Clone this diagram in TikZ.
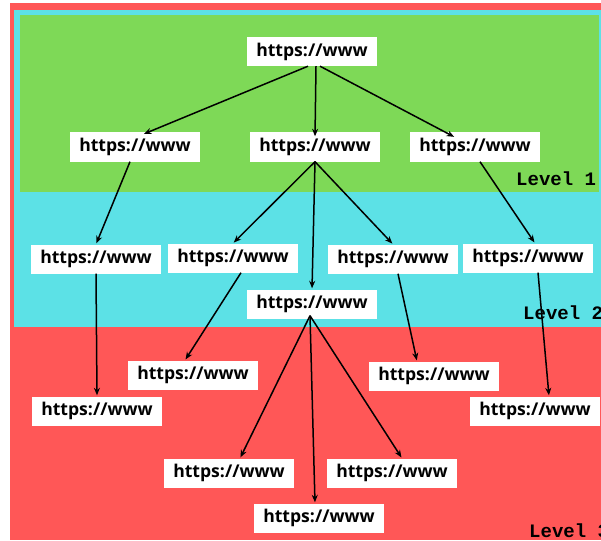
\documentclass[tikz,border=0pt]{standalone}
\usepackage{fontspec}
\setmainfont{Open Sans}
\newfontfamily\levelfont{Liberation Mono}
\usetikzlibrary{arrows.meta}
\definecolor{bgred}{HTML}{FF5757}
\definecolor{bgcyan}{HTML}{5CE1E6}
\definecolor{bggreen}{HTML}{7ED957}
\tikzstyle{urlbox} = [rectangle, fill=white, minimum width=130pt, minimum height=29pt, inner sep=0pt, text centered, font=\fontsize{17.6}{20}\selectfont\bfseries]
\tikzstyle{levellabel} = [anchor=west, inner sep=0pt, font=\levelfont\fontsize{19}{22}\selectfont\bfseries]
\tikzstyle{arrow} = [line width=1.5pt, -{Stealth[length=7.5pt,width=6pt]}, shorten >=1pt]

\begin{document}
\begin{tikzpicture}[x=1pt,y=-1pt]
    \useasboundingbox (0,0) rectangle (601,540);
    \clip (0,0) rectangle (601,540);
    % level bands
    \fill[white] (0,0) rectangle (601,540);
    \fill[bgred] (10,3) rectangle (610,540);
    \fill[bgcyan] (14,10) rectangle (610,327);
    \fill[bggreen] (20,15) rectangle (599,192);

    \node (lvl1) [levellabel] at (516,178.5) {Level 1};
    \node (lvl2) [levellabel] at (523,312.5) {Level 2};
    \node (lvl3) [levellabel] at (529,531) {Level 3};

    % pages
    \node (top) [urlbox] at (312,51.5) {https://www};
    \node (l1a) [urlbox] at (135,147) {https://www};
    \node (l1b) [urlbox] at (315,147) {https://www};
    \node (l1c) [urlbox] at (475,147) {https://www};
    \node (l2a) [urlbox] at (96,259) {https://www};
    \node (l2b) [urlbox] at (233,258) {https://www};
    \node (l2c) [urlbox] at (393,259) {https://www};
    \node (l2d) [urlbox] at (528,258) {https://www};
    \node (l2e) [urlbox] at (312,304) {https://www};
    \node (l3a) [urlbox] at (97,411) {https://www};
    \node (l3b) [urlbox] at (193,375) {https://www};
    \node (l3c) [urlbox] at (434,376) {https://www};
    \node (l3d) [urlbox] at (535,411) {https://www};
    \node (l3e) [urlbox] at (229,473) {https://www};
    \node (l3f) [urlbox] at (319,518) {https://www};
    \node (l3g) [urlbox] at (392,473) {https://www};

    % links
    \draw [arrow] ([xshift=-4pt]top.south) -- ([xshift=8pt,yshift=-2pt]l1a.north);
    \draw [arrow] ([xshift=4pt]top.south) -- ([yshift=-5pt]l1b.north);
    \draw [arrow] ([xshift=8pt]top.south) -- ([xshift=-20pt,yshift=-5pt]l1c.north);
    \draw [arrow] ([xshift=-5pt]l1a.south) -- (l2a.north);
    \draw [arrow] (l1b.south) -- (l2b.north);
    \draw [arrow] (l1b.south) -- (l2e.north);
    \draw [arrow] (l1b.south) -- (l2c.north);
    \draw [arrow] ([xshift=5pt]l1c.south) -- ([xshift=7pt]l2d.north);
    \draw [arrow] (l2a.south) -- (l3a.north);
    \draw [arrow] ([xshift=8pt]l2b.south) -- ([xshift=-8pt]l3b.north);
    \draw [arrow] ([xshift=5pt]l2c.south) -- ([xshift=-17pt]l3c.north);
    \draw [arrow] ([xshift=10pt]l2d.south) -- ([xshift=14pt]l3d.north);
    \draw [arrow] ([xshift=-2pt,yshift=3pt]l2e.south) -- ([xshift=11pt]l3e.north);
    \draw [arrow] ([xshift=-2pt,yshift=3pt]l2e.south) -- ([xshift=-4pt]l3f.north);
    \draw [arrow] ([xshift=-2pt,yshift=3pt]l2e.south) -- ([xshift=10pt]l3g.north);
\end{tikzpicture}
\end{document}
